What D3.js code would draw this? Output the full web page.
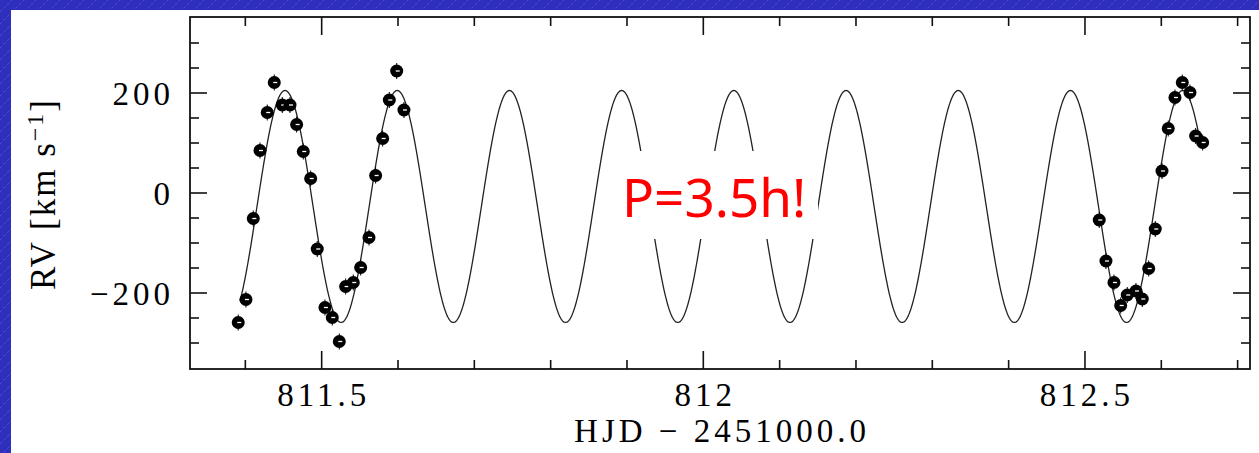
<!DOCTYPE html>
<html lang="en">
<head>
    <meta charset="UTF-8">
    <title>RV curve</title>
    <style>
        body { margin: 0; background: #2f2fbd; }
        svg { display: block; }
        .serif { font-family: "Liberation Serif", "DejaVu Serif", serif; fill: #000; }
    </style>
</head>
<body>
    <div id="container"></div>

    <script src="https://d3js.org/d3.v7.min.js"></script>
    <script>
        const width = 1259;
        const height = 453;

        // measured radial velocities (HJD - 2451000.0, km/s)
        const hjd = [
            811.3907, 811.4008, 811.4104, 811.4192, 811.4287, 811.4379, 811.4484, 811.4585,
            811.4672, 811.4759, 811.4856, 811.4942, 811.5043, 811.5139, 811.5231, 811.5314,
            811.5414, 811.5511, 811.5620, 811.5707, 811.5799, 811.5886, 811.5983, 811.6078,
            812.5187, 812.5275, 812.5380, 812.5468, 812.5554, 812.5668, 812.5751, 812.5835,
            812.5921, 812.6009, 812.6091, 812.6179, 812.6275, 812.6376, 812.6450, 812.6542
        ];
        const rv = [
            -259, -213, -51, 85, 161, 221, 176, 176,
            137, 83, 29, -112, -229, -249, -297, -187,
            -179, -149, -89, 35, 109, 186, 244, 166,
            -54, -136, -179, -225, -204, -196, -212, -151,
            -72, 44, 129, 191, 221, 201, 114, 101
        ];

        // sine fit
        const fitGamma = -27;       // km/s
        const fitK = 232;           // km/s
        const fitPeriod = 0.147;    // d  (3.5 h)
        const fitEpoch = 811.452;   // time of maximum
        const fitRange = [811.393, 812.650];

        const xTicksMajor = [811.5, 812, 812.5];
        const yTicksMajor = [-200, 0, 200];

        const margin = { left: 190, top: 17, right: 9, bottom: 84 };
        const plotW = width - margin.left - margin.right;
        const plotH = height - margin.top - margin.bottom;

        const svg = d3.select("#container")
            .append("svg")
            .attr("width", width)
            .attr("height", height);

        // striped blue slide background
        const defs = svg.append("defs");
        const pat = defs.append("pattern")
            .attr("id", "stripes")
            .attr("width", 12)
            .attr("height", 12)
            .attr("patternUnits", "userSpaceOnUse");
        pat.append("rect").attr("width", 12).attr("height", 12).attr("fill", "#2f2fbd");
        pat.append("line")
            .attr("x1", 0).attr("y1", 12).attr("x2", 12).attr("y2", 0)
            .attr("stroke", "#8a8ae0")
            .attr("stroke-opacity", 0.4)
            .attr("stroke-width", 0.8)
            .attr("stroke-dasharray", "3 2");

        svg.append("rect").attr("width", width).attr("height", height).attr("fill", "url(#stripes)");
        svg.append("rect")
            .attr("x", 11).attr("y", 10)
            .attr("width", width - 11).attr("height", height - 10)
            .attr("fill", "#fff");

        const x = d3.scaleLinear()
            .domain([811.3275, 811.3275 + plotW / 763.3])
            .range([margin.left, margin.left + plotW]);

        const y = d3.scaleLinear()
            .domain([-352, 352])
            .range([margin.top + plotH, margin.top]);

        const g = svg.append("g");

        // ticks on all four sides
        const xMinor = d3.range(811.4, 812.75, 0.1).map(v => +v.toFixed(1)).filter(v => !xTicksMajor.includes(v));
        const yMinor = d3.range(-300, 301, 50).filter(v => !yTicksMajor.includes(v));
        const yBottom = margin.top + plotH, yTop = margin.top;
        const xLeft = margin.left, xRight = margin.left + plotW;

        function xTick(v, len) {
            g.append("line").attr("x1", x(v)).attr("x2", x(v)).attr("y1", yBottom).attr("y2", yBottom - len);
            g.append("line").attr("x1", x(v)).attr("x2", x(v)).attr("y1", yTop).attr("y2", yTop + len);
        }
        function yTick(v, len) {
            g.append("line").attr("y1", y(v)).attr("y2", y(v)).attr("x1", xLeft).attr("x2", xLeft + len);
            g.append("line").attr("y1", y(v)).attr("y2", y(v)).attr("x1", xRight).attr("x2", xRight - len);
        }
        xMinor.forEach(v => xTick(v, 9));
        xTicksMajor.forEach(v => xTick(v, 18));
        yMinor.forEach(v => yTick(v, 9));
        yTicksMajor.forEach(v => yTick(v, 17));
        g.selectAll("line").attr("stroke", "#111").attr("stroke-width", 1.6);

        // model curve
        const curvePts = d3.range(fitRange[0], fitRange[1], 0.001).concat([fitRange[1]])
            .map(t => [t, fitGamma + fitK * Math.cos(2 * Math.PI * (t - fitEpoch) / fitPeriod)]);
        svg.append("path")
            .datum(curvePts)
            .attr("fill", "none")
            .attr("stroke", "#222")
            .attr("stroke-width", 1.3)
            .attr("d", d3.line().x(d => x(d[0])).y(d => y(d[1])));

        // data points
        const pts = svg.append("g").selectAll("g")
            .data(hjd.map((t, i) => ({ t, v: rv[i] })))
            .join("g")
            .attr("transform", d => `translate(${x(d.t)},${y(d.v)})`);
        pts.append("line").attr("x1", 0).attr("x2", 0).attr("y1", -8).attr("y2", 8)
            .attr("stroke", "#000").attr("stroke-width", 1);
        pts.append("circle").attr("r", 6.5).attr("fill", "#000");
        pts.append("line").attr("x1", -1).attr("x2", 3).attr("y1", 0).attr("y2", 0)
            .attr("stroke", "#fff").attr("stroke-width", 1.3);

        // frame
        svg.append("rect")
            .attr("x", xLeft).attr("y", yTop)
            .attr("width", plotW).attr("height", plotH)
            .attr("fill", "none")
            .attr("stroke", "#111")
            .attr("stroke-width", 1.8);

        // tick labels
        svg.append("g").selectAll("text")
            .data(xTicksMajor)
            .join("text")
            .attr("class", "serif")
            .attr("x", d => x(d) + 2)
            .attr("y", 406)
            .attr("text-anchor", "middle")
            .attr("font-size", 33)
            .attr("letter-spacing", 4)
            .text(d => d3.format("")(d));

        svg.append("g").selectAll("text")
            .data(yTicksMajor)
            .join("text")
            .attr("class", "serif")
            .attr("x", 174)
            .attr("y", d => y(d) + 12)
            .attr("text-anchor", "end")
            .attr("font-size", 33)
            .attr("letter-spacing", 4)
            .text(d => d < 0 ? "\u2212" + Math.abs(d) : d);

        // axis titles
        svg.append("text")
            .attr("class", "serif")
            .attr("x", 722)
            .attr("y", 442)
            .attr("text-anchor", "middle")
            .attr("font-size", 33)
            .attr("letter-spacing", 4)
            .attr("xml:space", "preserve")
            .text("HJD \u2212 2451000.0");

        const yt = svg.append("text")
            .attr("class", "serif")
            .attr("transform", "translate(55,194) rotate(-90)")
            .attr("text-anchor", "middle")
            .attr("font-size", 35)
            .attr("letter-spacing", 2);
        yt.append("tspan").text("RV [km s");
        yt.append("tspan").attr("dy", -12).attr("font-size", 24).text("\u22121");
        yt.append("tspan").attr("dy", 12).text("]");

        // annotation with white box behind it
        svg.append("rect")
            .attr("x", 616).attr("y", 151)
            .attr("width", 202).attr("height", 88)
            .attr("fill", "#fff");
        svg.append("text")
            .attr("x", 622)
            .attr("y", 217)
            .attr("font-family", "'Noto Sans', 'Open Sans', sans-serif")
            .attr("font-size", 53)
            .attr("fill", "#ff0000")
            .text("P=3.5h!");
    </script>
</body>
</html>
